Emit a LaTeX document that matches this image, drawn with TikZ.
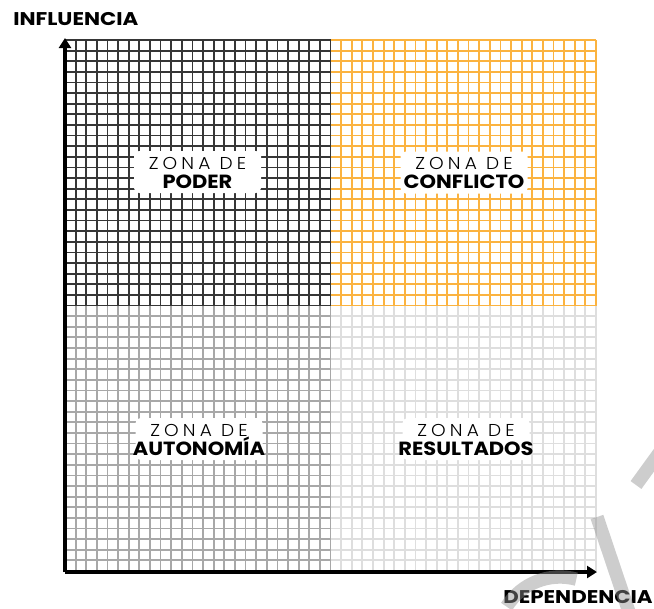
\documentclass[tikz,border=0pt]{standalone}
\usepackage{fontspec}
\setmainfont{Poppins}
\newfontfamily\zlight{Poppins Light}[LetterSpace=24,FakeStretch=1.08]
\newfontfamily\zbold{Poppins Bold}[FakeStretch=1.1]
\newfontfamily\axbold{Poppins Bold}[FakeStretch=1.16]
\usetikzlibrary{arrows.meta}
\definecolor{qdark}{HTML}{363636}
\definecolor{qorange}{HTML}{FBB340}
\definecolor{qgrey}{HTML}{A8A8A8}
\definecolor{qlight}{HTML}{DEDEDE}
\definecolor{wmark}{rgb}{0.57,0.57,0.57}
\tikzset{
  gridline/.style={line width=1.35pt},
  axisline/.style={line width=2.6pt, black, -{Triangle[width=9pt,length=7.5pt]}},
  zonebox/.style={fill=white, rounded corners=3.75pt, minimum width=95.25pt, minimum height=31.5pt, inner sep=0pt},
  zonetop/.style={anchor=base, inner sep=0pt, font=\zlight\fontsize{12.9}{14}\selectfont},
  zonebot/.style={anchor=base, inner sep=0pt, font=\zbold\fontsize{14.3}{16}\selectfont},
  axislabel/.style={anchor=base west, inner sep=0pt, font=\axbold\fontsize{13.8}{15}\selectfont},
  wmstroke/.style={wmark, opacity=0.45, line width=10pt}
}
\newcommand\quadgrid[3]{%
  \foreach \i in {0,...,25}{%
    \draw[gridline,#3] ({#1+\i*10.62},#2) -- ({#1+\i*10.62},{#2+25*10.62});
    \draw[gridline,#3] (#1,{#2+\i*10.62}) -- ({#1+25*10.62},{#2+\i*10.62});
  }}
\begin{document}
\begin{tikzpicture}[x=0.75pt,y=-0.75pt]
\useasboundingbox (0,0) rectangle (654,608);
\fill[white] (0,0) rectangle (654,608);
% grids
\quadgrid{330.5}{305.5}{qlight}
\quadgrid{65}{305.5}{qgrey}
\quadgrid{330.5}{40}{qorange}
\quadgrid{65}{40}{qdark}
% axes
\coordinate (origin) at (65,572);
\coordinate (ytip) at (65,38);
\coordinate (xtip) at (597,572);
\draw[axisline] (origin) -- (ytip);
\draw[axisline] (origin) -- (xtip);
\node[axislabel] (ylab) at (13,25) {INFLUENCIA};
\node[axislabel] (xlab) at (503,603) {DEPENDENCIA};
% zone boxes
\node[zonebox] (b1) at (197.5,172) {};
\node[zonebox] (b2) at (464,172.5) {};
\node[zonebox] (b3) at (199,439) {};
\node[zonebox] (b4) at (466,439) {};
\node[zonetop] (t1) at ([yshift=2.25pt]b1.center) {ZONA DE};
\node[zonebot] (s1) at ([yshift=-12pt]b1.center) {PODER};
\node[zonetop] (t2) at ([yshift=2.25pt]b2.center) {ZONA DE};
\node[zonebot] (s2) at ([yshift=-12pt]b2.center) {CONFLICTO};
\node[zonetop] (t3) at ([yshift=2.25pt]b3.center) {ZONA DE};
\node[zonebot] (s3) at ([yshift=-12pt]b3.center) {AUTONOMÍA};
\node[zonetop] (t4) at ([yshift=2.25pt]b4.center) {ZONA DE};
\node[zonebot] (s4) at ([yshift=-12pt]b4.center) {RESULTADOS};
% watermark
\draw[wmstroke] (597,517) -- (630,615);
\draw[wmstroke] (636,485) -- (665,445);
\draw[wmstroke] (560,640) ++(-148:63) arc[start angle=-148, end angle=-75, radius=63];
\end{tikzpicture}
\end{document}
